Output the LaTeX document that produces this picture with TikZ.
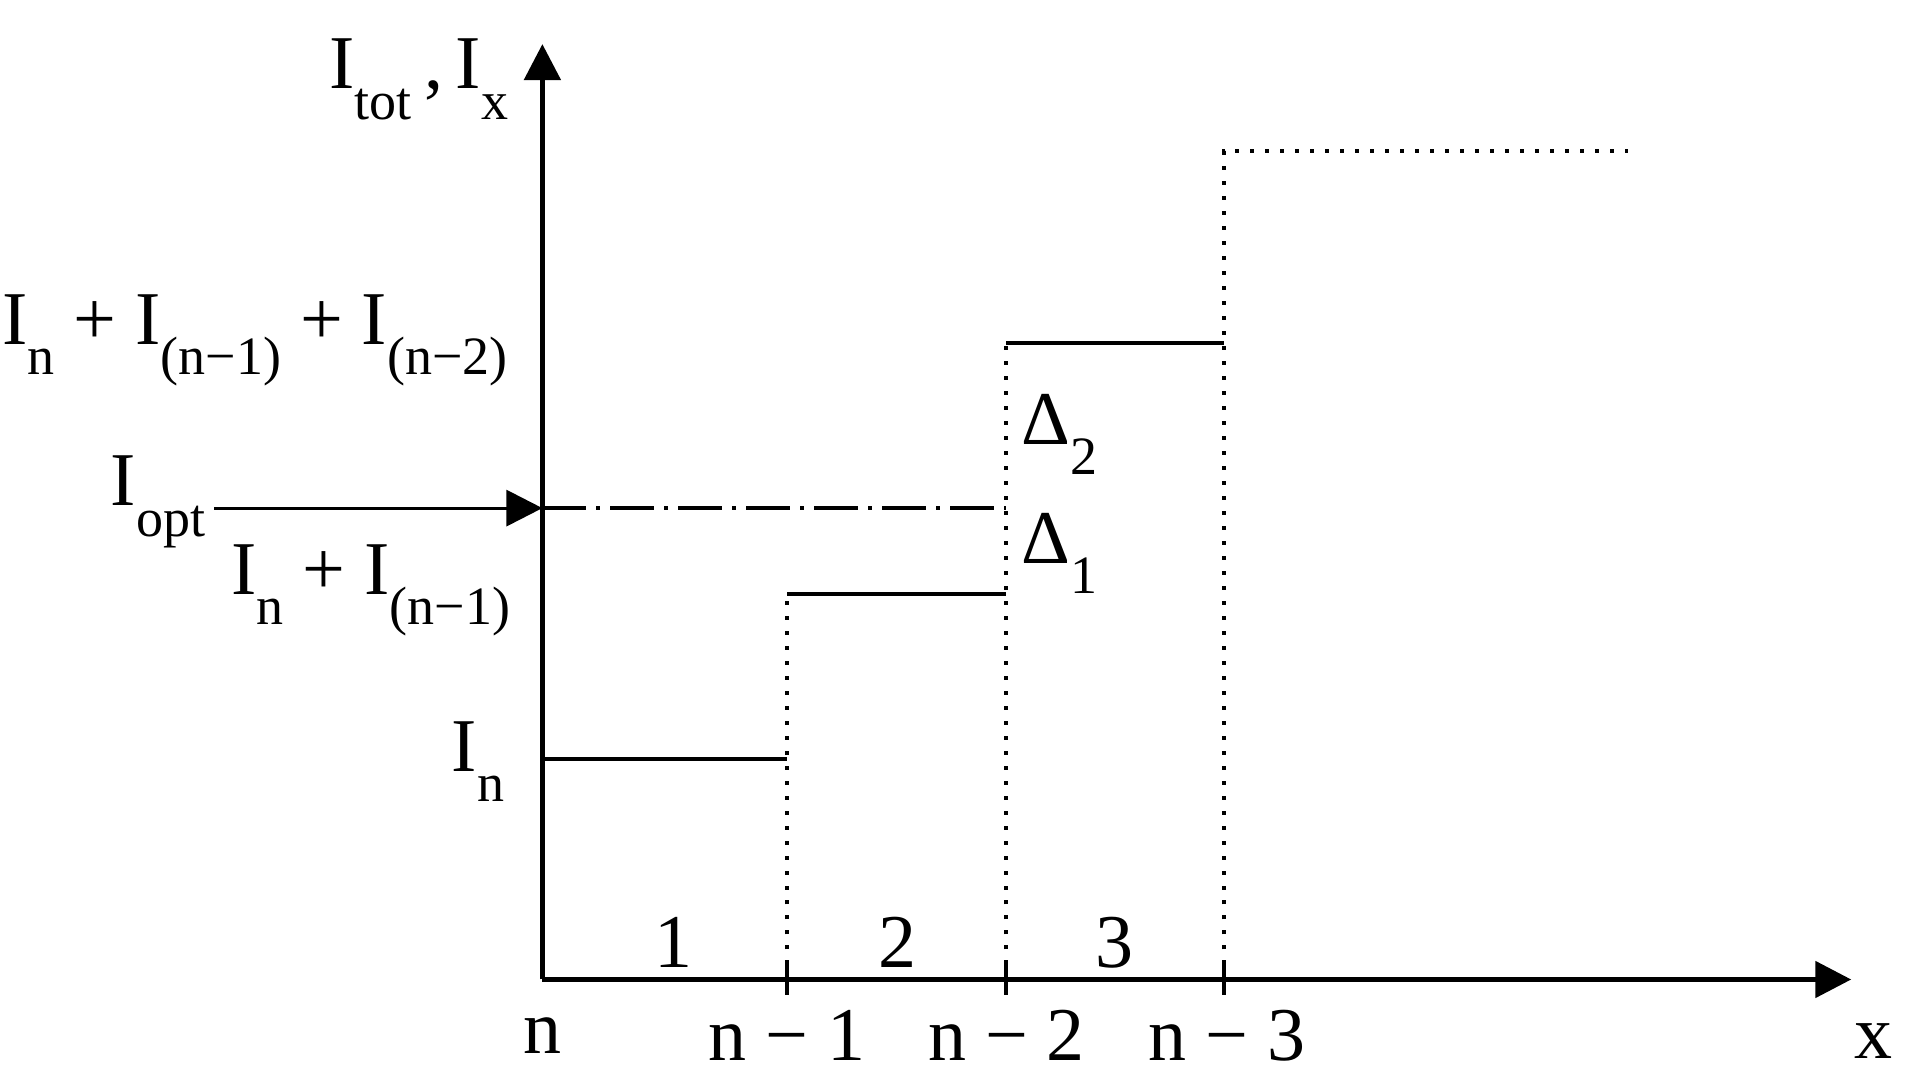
\documentclass[tikz,border=0pt]{standalone}
\usepackage{fontspec}
\setmainfont{Liberation Serif}
\usetikzlibrary{arrows.meta}
\newcommand{\sbx}[1]{\raisebox{-0.4em}{\fontsize{27}{30}\selectfont #1}}
\begin{document}
\begin{tikzpicture}[x=0.6122pt,y=-0.6122pt,
  lbl/.style={font=\fontsize{38}{42}\selectfont, inner sep=0pt},
  axisline/.style={line width=2.6pt},
  stepline/.style={line width=2pt},
  dotline/.style={line width=2pt, dash pattern=on 2pt off 5.5pt},
  tri/.style={-{Triangle[length=18pt,width=18pt]}}]
\useasboundingbox (0,0) rectangle (1560,882);
\coordinate (o) at (443,800);
\coordinate (ytip) at (443,36);
\coordinate (xtip) at (1512,800);
\draw[axisline,tri] (o) -- (ytip);
\draw[axisline,tri] (o) -- (xtip);
\foreach \x/\n in {643/a,822/b,1000/c}{
  \coordinate (t\n) at (\x,785); \coordinate (u\n) at (\x,813);
  \draw[stepline] (t\n) -- (u\n);}
% steps
\coordinate (s0) at (443,620); \coordinate (s1) at (643,620);
\coordinate (s2) at (643,485); \coordinate (s3) at (822,485);
\coordinate (s4) at (822,280); \coordinate (s5) at (1000,280);
\coordinate (s6) at (1000,123); \coordinate (s7) at (1330,123);
\draw[stepline] (s0) -- (s1);
\draw[stepline] (s2) -- (s3);
\draw[stepline] (s4) -- (s5);
\draw[dotline] (643,800) -- (s2);
\draw[dotline] (822,800) -- (s4);
\draw[dotline] (1000,800) -- (s6) -- (s7);
\coordinate (opt0) at (443,415); \coordinate (opt1) at (822,415);
\draw[line width=2pt, dash pattern=on 22pt off 5pt on 2pt off 5pt] (opt0) -- (opt1);
\coordinate (ia) at (175,415);
\draw[line width=1.6pt,tri] (ia) -- (opt0);
% labels
\node[lbl] (ylab) at (342,65) {I\sbx{tot}\,,\,I\sbx{x}};
\node[lbl,anchor=east] (l3) at (415,278) {I\sbx{n} + I\sbx{(n−1)} + I\sbx{(n−2)}};
\node[lbl,anchor=east] (lopt) at (168,410) {I\sbx{opt}};
\node[lbl,anchor=east] (l2) at (417,482) {I\sbx{n} + I\sbx{(n−1)}};
\node[lbl,anchor=east] (l1) at (412,622) {I\sbx{n}};
\node[lbl] (d2) at (865,355) {Δ\sbx{2}};
\node[lbl] (d1) at (865,452) {Δ\sbx{1}};
\node[lbl] (r1) at (550,770) {1};
\node[lbl] (r2) at (733,770) {2};
\node[lbl] (r3) at (910,770) {3};
\node[lbl] (bn) at (443,846) {n};
\node[lbl] (b1) at (643,846) {n − 1};
\node[lbl] (b2) at (822,846) {n − 2};
\node[lbl] (b3) at (1002,846) {n − 3};
\node[lbl] (bx) at (1530,850) {x};
\end{tikzpicture}
\end{document}
